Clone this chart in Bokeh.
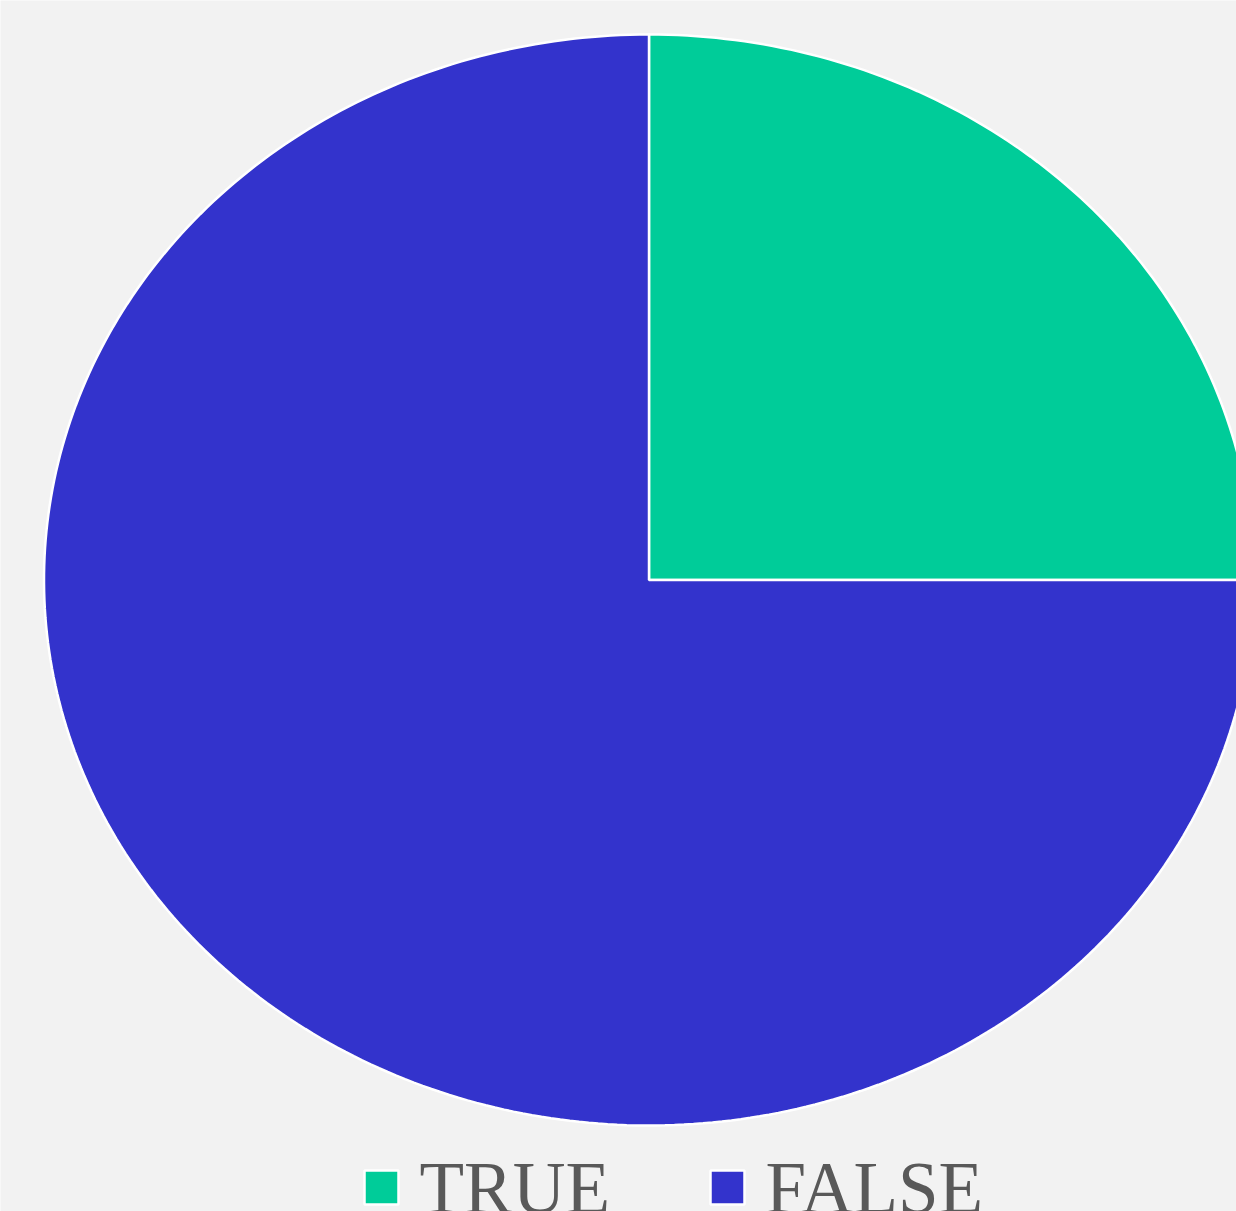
import numpy as np
from bokeh.plotting import figure
from bokeh.models import Range1d, ColumnDataSource
from bokeh.core.properties import value
from bokeh.embed import file_html
from bokeh.resources import INLINE

# Data
categories = ["TRUE", "FALSE"]
values = [25, 75]
colors = ["#00cc99", "#3333cc"]

W, H = 1236, 1211
p = figure(width=W, height=H, output_backend="svg", toolbar_location=None,
           x_range=Range1d(0, W), y_range=Range1d(H, 0), min_border=0,
           background_fill_color="#f2f2f2", border_fill_color="#f2f2f2")
p.axis.visible = False
p.grid.visible = False
p.outline_line_color = None

# pie geometry (elliptical)
cx, cy, rx, ry = 648.5, 579.5, 605.0, 545.5
total = float(sum(values))
start = 0.0
xs, ys = [], []
for v in values:
    frac0 = start / total
    frac1 = (start + v) / total
    n = max(int(400 * (frac1 - frac0)), 8)
    t = np.linspace(frac0, frac1, n) * 2 * np.pi  # clockwise from 12 o'clock
    px = cx + rx * np.sin(t)
    py = cy - ry * np.cos(t)
    xs.append([cx] + list(px) + [cx])
    ys.append([cy] + list(py) + [cy])
    start += v

src = ColumnDataSource(dict(xs=xs, ys=ys, color=colors, label=categories))
p.patches("xs", "ys", source=src, fill_color="color", line_color="white", line_width=2.5)

# legend (manual, bottom, clipped like the reference)
leg_x = [364, 710]
sq = 34
lsrc = ColumnDataSource(dict(x=[x + sq / 2 for x in leg_x], y=[1187] * 2, color=colors,
                             tx=[x + 55 for x in leg_x], ty=[1188] * 2, label=categories))
p.rect(x="x", y="y", width=sq, height=sq, source=lsrc, fill_color="color",
       line_color="white", line_width=2.5)
p.text(x="tx", y="ty", text="label", source=lsrc, text_font=value("Liberation Serif"),
       text_font_size="73px", text_color="#595959", text_baseline="alphabetic",
       text_align="left")

open("out.html", "w").write(file_html(p, INLINE))
